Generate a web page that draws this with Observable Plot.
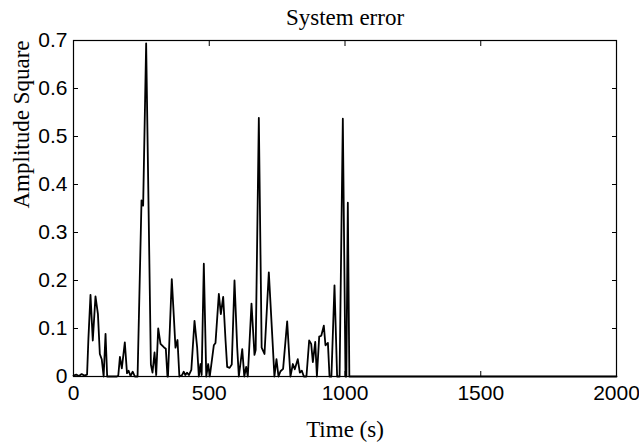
<!DOCTYPE html>
<html>
<head>
<meta charset="utf-8">
<script src="https://cdn.jsdelivr.net/npm/d3@7"></script>
<script src="https://cdn.jsdelivr.net/npm/@observablehq/plot@0.6"></script>
<style>
  html, body { margin: 0; padding: 0; background: #fff; }
</style>
</head>
<body>
<div id="chart"></div>
<script>
const titleText = "System error";
const xLabel = "Time (s)";
const yLabel = "Amplitude Square";

const time = [0,10,20,30,40,50,55,62.6,71,81,90,97,104,111,118,124,160,165,171,178,189,197,203,210,218,226,236,250.5,256.5,267.6,285,291,298.5,304.6,312,320.5,332.7,340,346,348,362,370,375.6,383,390,400,406,412,418,425,434,445.7,455.5,461.6,467.7,472,480,489,496,502,516.8,523,535.3,542.7,551.3,560,566,575,582.9,593,603,609,621.5,629,636,642,655.6,666.6,671,682.6,693,703.5,719.4,735,740,747.6,755,762.4,772,787,799,808,815,826,833.6,841,848.5,858,868,875.5,881.6,890.4,896.5,905,912.6,922,928,937,943,950,961.3,971,980,992,1001.8,1005,1010.4,1016,1030,2000];
const amplitude = [0.002,0.004,0.001,0.005,0.002,0.004,0.08,0.170,0.075,0.167,0.13,0.047,0.036,0.0,0.089,0.0,0.0,0.002,0.041,0.017,0.071,0.007,0.012,0.001,0.01,0.0,0.0,0.367,0.356,0.694,0.025,0.008,0.05,0.003,0.100,0.068,0.061,0.058,0.0,0.0,0.203,0.12,0.06,0.076,0.0,0.003,0.01,0.003,0.008,0.003,0.014,0.116,0.06,0.0,0.026,0.003,0.235,0.0,0.026,0.0,0.065,0.07,0.172,0.13,0.166,0.075,0.02,0.018,0.025,0.2,0.06,0.0,0.057,0.0,0.02,0.0,0.152,0.045,0.055,0.539,0.06,0.047,0.217,0.054,0.0,0.036,0.0,0.011,0.016,0.115,0.0,0.026,0.015,0.036,0.008,0.012,0.0,0.0,0.075,0.068,0.03,0.072,0.0,0.083,0.085,0.106,0.065,0.07,0.0,0.0,0.19,0.0,0.0,0.537,0.0,0.0,0.362,0.0,0.0,0.0];

const xTicks = [0, 500, 1000, 1500, 2000];
const yTicks = [0, 0.1, 0.2, 0.3, 0.4, 0.5, 0.6, 0.7];

const data = time.map((t, i) => ({t, v: amplitude[i]}));

const serif = "'Liberation Serif', 'Times New Roman', Times, serif";
const sans = "'Liberation Sans', Arial, Helvetica, sans-serif";

const chart = Plot.plot({
  width: 639,
  height: 445,
  marginLeft: 73,
  marginRight: 23,
  marginTop: 40,
  marginBottom: 69,
  style: {background: "#fff", color: "#000", fontFamily: sans},
  x: {domain: [0, 2000], axis: null},
  y: {domain: [0, 0.7], axis: null},
  marks: [
    Plot.line(data, {x: "t", y: "v", stroke: "#000", strokeWidth: 1.8}),
    Plot.frame({stroke: "#000", strokeWidth: 1.2}),
    // inward ticks on all four sides
    Plot.axisX(xTicks, {anchor: "bottom", tickSize: -5, text: null, label: null, stroke: "#000"}),
    Plot.axisX(xTicks, {anchor: "top", tickSize: -5, text: null, label: null, stroke: "#000"}),
    Plot.axisY(yTicks, {anchor: "left", tickSize: -5, text: null, label: null, stroke: "#000"}),
    Plot.axisY(yTicks, {anchor: "right", tickSize: -5, text: null, label: null, stroke: "#000"}),
    // tick labels
    Plot.axisX(xTicks, {anchor: "bottom", tickSize: 0, tickPadding: 9, fontSize: 21, fontFamily: sans, fill: "#000", label: null, tickFormat: d => String(d)}),
    Plot.axisY(yTicks, {anchor: "left", tickSize: 0, tickPadding: 6, fontSize: 21, fontFamily: sans, fill: "#000", label: null, tickFormat: d => d === 0 ? "0" : d3.format(".1f")(d)}),
    // title and axis labels
    Plot.text([titleText], {frameAnchor: "top", lineAnchor: "top", dy: -32, fontSize: 23, fontFamily: serif, fill: "#000"}),
    Plot.text([xLabel], {frameAnchor: "bottom", lineAnchor: "top", dy: 44, fontSize: 23, fontFamily: serif, fill: "#000"}),
    Plot.text([yLabel], {frameAnchor: "left", lineAnchor: "top", rotate: -90, dx: -61, fontSize: 23, fontFamily: serif, fill: "#000"})
  ]
});
document.getElementById("chart").appendChild(chart);
</script>
</body>
</html>
